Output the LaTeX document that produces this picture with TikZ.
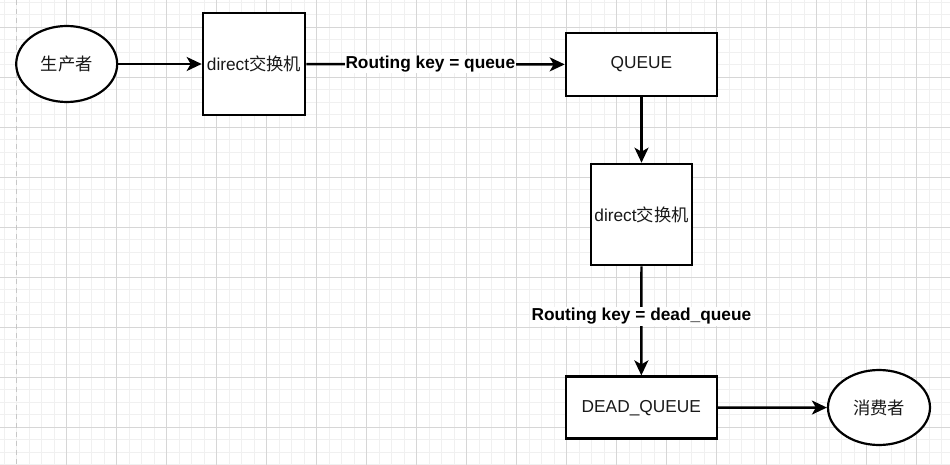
\documentclass[tikz,border=0pt]{standalone}
\usepackage{fontspec}
\setmainfont{Liberation Sans}
\newfontfamily\cjk{Noto Sans CJK SC}
\usetikzlibrary{arrows.meta,shapes.geometric}
\tikzset{
  minorgrid/.style={draw=black!6, line width=0.8pt},
  majorgrid/.style={draw=black!16, line width=0.9pt},
  boxnode/.style={draw=black, line width=2.6pt, fill=white, inner sep=0pt,
    font=\fontsize{17.3}{20}\selectfont, text=black!90},
  ellnode/.style={ellipse, draw=black, line width=2.2pt, fill=white, inner sep=0pt,
    font=\fontsize{17.3}{20}\selectfont, text=black!90},
  arr/.style={draw=black, line width=2.4pt,
    -{Stealth[length=15pt, width=14pt, inset=4pt]}},
  lbl/.style={fill=white, inner sep=1pt, font=\bfseries\fontsize{17.3}{20}\selectfont}
}
\begin{document}
\begin{tikzpicture}[x=1pt,y=-1pt]
\useasboundingbox (0,0) rectangle (950,465);
\fill[white] (0,0) rectangle (950,465);
% minor grid
\foreach \i in {0,...,76} { \draw[minorgrid] ({4.2+12.5*\i},0) -- ({4.2+12.5*\i},465); }
\foreach \j in {0,...,37} { \draw[minorgrid] (0,{2.3+12.5*\j}) -- (950,{2.3+12.5*\j}); }
% major grid
\foreach \i in {1,...,18} { \draw[majorgrid] ({16.7+50*\i},0) -- ({16.7+50*\i},465); }
\foreach \j in {0,...,8} { \draw[majorgrid] (0,{27.3+50*\j}) -- (950,{27.3+50*\j}); }
\draw[draw=black!22, line width=1.4pt, dash pattern=on 5pt off 4pt] (16.7,0) -- (16.7,465);

% nodes
\node[ellnode, minimum width=101pt, minimum height=76pt] (prod) at (66.7,64) {\cjk 生产者};
\node[boxnode, minimum width=102pt, minimum height=102pt] (ex1) at (254,64) {direct\cjk 交换机};
\node[boxnode, minimum width=151pt, minimum height=63pt] (queue) at (641.5,64.5) {QUEUE};
\node[boxnode, minimum width=101pt, minimum height=101pt] (ex2) at (641.5,214.5) {direct\cjk 交换机};
\node[boxnode, minimum width=151pt, minimum height=62pt] (dq) at (641.3,407.7) {DEAD\_QUEUE};
\node[ellnode, minimum width=102pt, minimum height=75pt] (cons) at (879,407.5) {\cjk 消费者};

% connectors
\draw[arr] (prod) -- (ex1);
\draw[arr] (ex1) -- node[lbl, pos=0.48] {Routing key = queue} (queue);
\draw[arr] (queue) -- (ex2);
\draw[arr] (ex2) -- node[lbl, pos=0.46] {Routing key = dead\_queue} (dq);
\draw[arr] (dq) -- (cons);
\end{tikzpicture}
\end{document}
